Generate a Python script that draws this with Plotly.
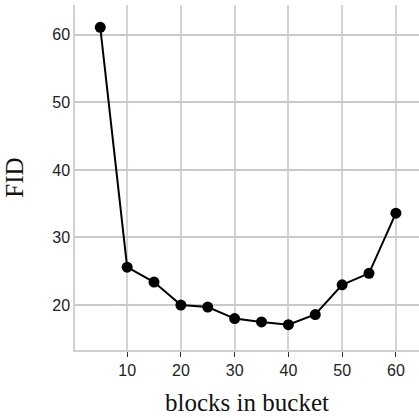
import plotly.graph_objects as go

blocks = [5, 10, 15, 20, 25, 30, 35, 40, 45, 50, 55, 60]
fid = [61.1, 25.6, 23.4, 20.0, 19.7, 18.0, 17.5, 17.1, 18.6, 23.0, 24.7, 33.6]
x_ticks = [10, 20, 30, 40, 50, 60]
y_ticks = [20, 30, 40, 50, 60]

fig = go.Figure(go.Scatter(
    x=blocks, y=fid, mode="lines+markers",
    line=dict(color="black", width=2),
    marker=dict(color="black", size=11),
))

fig.update_layout(
    width=419, height=418,
    margin=dict(l=75, r=0, t=5, b=68),
    paper_bgcolor="white", plot_bgcolor="white",
    showlegend=False,
    font=dict(family="Liberation Sans, Arial, sans-serif", size=16, color="#222"),
)
fig.update_xaxes(
    range=[0.3, 64.3], tickvals=x_ticks,
    showgrid=True, gridcolor="#d2d4da", gridwidth=1.5,
    showline=True, linecolor="#d0d0d0", linewidth=1.5,
    ticks="outside", ticklen=5, tickcolor="#333", tickwidth=1,
    zeroline=False,
    title=dict(text="blocks in bucket", font=dict(family="Liberation Serif, Times New Roman, serif", size=25, color="#111"), standoff=16),
)
fig.update_yaxes(
    range=[13.35, 64.4], tickvals=y_ticks,
    showgrid=True, gridcolor="#c8c9d0", gridwidth=1.5,
    showline=True, linecolor="#d0d0d0", linewidth=1.5,
    ticks="", zeroline=False,
    title=dict(text="FID", font=dict(family="Liberation Serif, Times New Roman, serif", size=25, color="#111"), standoff=22),
)

fig.write_html("out.html")
